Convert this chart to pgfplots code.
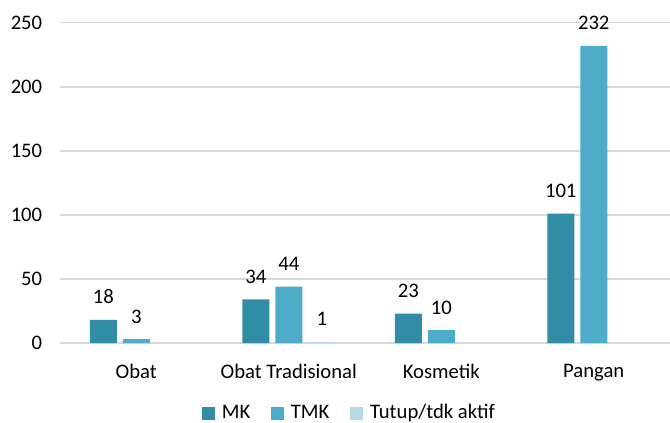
\documentclass[border=0pt]{standalone}
\usepackage{pgfplots}
\pgfplotsset{compat=1.18}
\usepackage{fontspec}
\setmainfont{Carlito}
\definecolor{mk}{RGB}{49,140,166}
\definecolor{tmk}{RGB}{79,172,200}
\definecolor{tutup}{RGB}{181,217,229}
\definecolor{gridc}{RGB}{217,217,217}
\newcommand{\f}{\fontsize{15.5}{18}\selectfont}
\begin{document}
\f
\begin{tikzpicture}
\path[use as bounding box] (-45pt,-59.25pt) rectangle (457.5pt,257.25pt);
\begin{axis}[
  scale only axis, width=457.5pt, height=240.2pt,
  xmin=-0.5, xmax=3.5, ymin=0, ymax=250,
  ytick={0,50,...,250},
  xtick={0,1,2,3}, xticklabels={Obat, Obat Tradisional, Kosmetik, Pangan},
  axis line style={draw=none}, tick style={draw=none},
  ymajorgrids, major grid style={gridc, line width=1.1pt},
  ybar=4.5pt, bar width=20.25pt,
  /pgf/number format/assume math mode=true,
  ticklabel style={font=\f},
  yticklabel style={xshift=-8pt},
  xticklabel style={yshift=-6pt},
  nodes near coords,
  every node near coord/.append style={font=\f, yshift=6.5pt, text=black},
  legend style={at={(0.475,-0.2186)}, anchor=center, draw=none, legend columns=-1,
    font=\f,
    /tikz/every even column/.append style={column sep=13.5pt}},
  myleg/.style={legend image code/.code={\fill[##1] (0pt,-5pt) rectangle (9.5pt,4.5pt); \path (13pt,0pt);}},
]
\addplot[fill=mk, draw=none, myleg] coordinates {(0,18) (1,34) (2,23) (3,101)};
\addplot[fill=tmk, draw=none, myleg] coordinates {(0,3) (1,44) (2,10) (3,232)};
\addplot[fill=tutup, draw=none, myleg] coordinates {(1,1)};
\legend{MK, TMK, Tutup/tdk aktif}
\end{axis}
\end{tikzpicture}
\end{document}
